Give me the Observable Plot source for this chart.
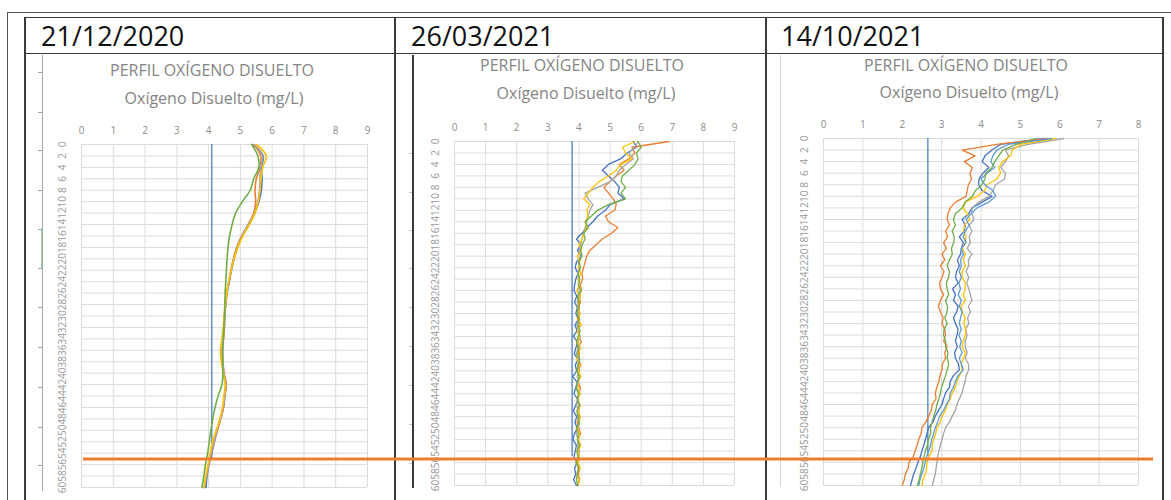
<!DOCTYPE html>
<html><head><meta charset="utf-8">
<script src="https://cdn.jsdelivr.net/npm/d3@7"></script>
<script src="https://cdn.jsdelivr.net/npm/@observablehq/plot@0.6"></script>
<style>
html,body{margin:0;padding:0;background:#fff;}
#page{position:relative;width:1171px;height:500px;overflow:hidden;font-family:"Open Sans",sans-serif;background:#fff;}
.ln{position:absolute;}
.hdr{position:absolute;top:22px;font-size:27px;color:#111;line-height:1;white-space:nowrap;}
.col{position:absolute;top:54px;height:446px;}
.ttl{position:absolute;transform:translateX(-50%);color:#858585;font-size:16px;line-height:1;white-space:nowrap;}
</style></head><body><div id="page"></div>
<script>
// ---------- data ----------
const dates = ["21/12/2020", "26/03/2021", "14/10/2021"];
const chartTitle = "PERFIL OXÍGENO DISUELTO";
const axisTitle = "Oxígeno Disuelto (mg/L)";
const depthTicks = [0,2,4,6,8,10,12,14,16,18,20,22,24,26,28,30,32,34,36,38,40,42,44,46,48,50,52,54,56,58,60];
const xTicks9 = [0,1,2,3,4,5,6,7,8,9];
const xTicks8 = [0,1,2,3,4,5,6,7,8];
const refValues = [4.1, 3.78, 2.65];      // vertical reference line (mg/L)
const refDepthEnd = 55;                     // reference line reaches this depth
const markDepth = 55;                       // highlighted depth (orange line)

const seriesNames = ["Serie 1", "Serie 2", "Serie 3", "Serie 4", "Serie 5", "Serie 6"];
const seriesColors = ["#4472C4", "#ED7D31", "#A5A5A5", "#FFC000", "#5B9BD5", "#70AD47"];

// Panel 1 (21/12/2020), depth every 2 m
const depth1 = [0,2,4,6,8,10,12,14,16,18,20,22,24,26,28,30,32,34,36,38,40,42,44,46,48,50,52,54,56,58,60];
const p1_s1 = [5.40,5.72,5.66,5.68,5.66,5.58,5.45,5.27,5.06,4.91,4.80,4.72,4.65,4.58,4.53,4.50,4.49,4.46,4.43,4.44,4.47,4.54,4.51,4.47,4.37,4.26,4.18,4.10,4.01,3.95,3.92];
const p1_s2 = [5.42,5.64,5.62,5.50,5.46,5.48,5.42,5.24,5.04,4.88,4.78,4.70,4.64,4.57,4.54,4.51,4.50,4.47,4.44,4.45,4.49,4.56,4.50,4.47,4.38,4.28,4.18,4.09,4.00,3.93,3.86];
const p1_s3 = [5.44,5.70,5.64,5.62,5.60,5.55,5.44,5.25,5.05,4.90,4.79,4.71,4.64,4.58,4.53,4.50,4.48,4.46,4.44,4.45,4.48,4.55,4.50,4.46,4.37,4.27,4.17,4.08,4.00,3.93,3.87];
const p1_s4 = [5.50,5.82,5.70,5.65,5.62,5.56,5.46,5.28,5.08,4.92,4.80,4.71,4.63,4.57,4.52,4.49,4.46,4.42,4.37,4.40,4.46,4.52,4.48,4.44,4.35,4.24,4.12,4.05,3.98,3.91,3.86];
const p1_s6 = [5.36,5.55,5.58,5.42,5.31,5.06,4.85,4.74,4.66,4.61,4.58,4.56,4.54,4.52,4.51,4.50,4.48,4.46,4.44,4.44,4.45,4.42,4.30,4.20,4.13,4.07,4.02,3.97,3.90,3.85,3.79];

// Panels 2 and 3, depth every 1 m
const depth1m = [0,1,2,3,4,5,6,7,8,9,10,11,12,13,14,15,16,17,18,19,20,21,22,23,24,25,26,27,28,29,30,31,32,33,34,35,36,37,38,39,40,41,42,43,44,45,46,47,48,49,50,51,52,53,54,55,56,57,58,59,60];

const p2_s1 = [5.75,5.85,5.55,5.35,4.95,4.75,4.95,5.15,5.3,5.25, 5.45,5.0,4.85,4.6,4.45,4.25,4.1,3.92,4.05,3.95, 4.08,3.92,3.88,3.97,3.9,3.86,3.84,3.93,3.86,3.95, 3.9,3.98,3.87,3.94,3.82,3.96,3.9,3.85,3.97,3.88, 3.93,3.8,3.95,3.89,3.84,3.96,3.9,3.82,3.93,3.87, 3.95,3.85,3.81,3.92,3.88,3.84,3.94,3.86,3.9,3.83, 3.92];
const p2_s2 = [6.9,5.7,5.8,5.6,5.3,5.45,5.2,5.0,4.8,4.95, 5.1,5.2,5.15,4.85,4.95,5.25,5.05,4.75,4.55,4.35, 4.25,4.2,4.15,4.1,4.12,4.05,4.08,4.0,4.05,3.98, 4.02,3.95,4.05,3.97,4.0,4.08,3.95,4.02,3.98,4.06, 3.96,4.03,3.97,4.05,3.99,3.95,4.04,3.98,4.02,3.94, 4.0,4.05,3.96,4.02,3.97,4.0,3.94,4.03,3.98,4.02, 3.95];
const p2_s3 = [5.9,5.8,5.6,5.75,5.5,5.3,5.2,5.0,4.6,4.2, 4.3,4.45,4.35,4.3,4.25,4.2,4.15,4.1,4.05,4.0, 4.05,3.98,4.02,3.95,4.0,4.03,3.96,4.0,3.94,4.02, 3.97,4.01,3.93,3.99,4.04,3.95,3.98,3.92,4.0,3.96, 4.02,3.94,3.99,3.93,4.01,3.97,3.92,4.0,3.95,4.03, 3.96,3.91,3.99,3.94,4.02,3.96,3.9,3.98,3.93,4.0, 3.95];
const p2_s4 = [5.8,5.4,5.5,5.7,5.35,5.2,4.95,4.65,4.45,4.3, 4.15,4.35,4.25,4.3,4.2,4.25,4.15,4.1,4.0,4.08, 3.95,4.03,3.98,4.06,3.97,4.02,3.93,4.05,3.99,3.96, 4.04,3.98,4.07,3.95,4.01,3.97,4.05,3.99,3.94,4.03, 3.98,4.06,3.96,4.0,4.04,3.95,4.02,3.97,4.05,3.99, 3.94,4.03,3.98,4.06,3.96,4.01,3.97,4.04,3.95,4.0, 3.97];
const p2_s6 = [5.9,6.0,5.85,5.9,5.8,5.6,5.4,5.35,5.5,5.35, 5.5,4.95,4.6,4.4,4.2,4.3,4.15,4.2,4.1,4.05, 4.1,4.0,4.05,3.97,4.03,3.98,4.06,3.95,4.01,3.97, 3.93,4.02,3.96,4.04,3.98,3.92,4.0,3.95,4.03,3.97, 3.94,4.01,3.96,3.9,3.99,3.95,4.02,3.93,3.97,4.0, 3.92,3.98,3.95,4.02,3.93,3.97,3.91,3.99,3.95,3.92, 3.96];

const p3_s1 = [5.6,4.5,4.28,4.1,4.03,4.2,4.05,3.95,3.94,4.03, 4.28,4.03,3.77,3.69,3.52,3.6,3.58,3.45,3.55,3.5, 3.48,3.4,3.45,3.38,3.35,3.42,3.28,3.35,3.3,3.42, 3.38,3.3,3.35,3.42,3.39,3.35,3.4,3.33,3.35,3.43, 3.45,3.3,3.22,3.2,3.1,3.05,3.01,2.92,2.84,2.78, 2.67,2.63,2.59,2.55,2.5,2.46,2.4,2.35,2.29,2.25, 2.21];
const p3_s2 = [5.7,4.4,3.52,3.85,3.58,3.78,3.72,3.76,3.68,3.65, 3.62,3.35,3.22,3.16,3.14,3.2,3.1,3.15,3.05,3.12, 3.01,3.08,2.97,3.06,3.01,2.95,2.97,3.05,2.97,2.92, 2.97,3.04,3.01,3.08,3.1,3.05,3.14,3.08,3.1,3.02, 3.01,2.96,2.93,2.88,2.84,2.86,2.76,2.74,2.67,2.6, 2.5,2.48,2.42,2.38,2.33,2.28,2.17,2.15,2.08,2.05, 2.0];
const p3_s3 = [6.1,5.2,4.62,4.7,4.62,4.5,4.62,4.6,4.37,4.3, 4.2,3.94,3.77,3.77,3.82,3.7,3.77,3.7,3.73,3.65, 3.77,3.68,3.69,3.62,3.69,3.64,3.69,3.73,3.77,3.68, 3.73,3.66,3.69,3.6,3.65,3.6,3.6,3.65,3.6,3.68, 3.69,3.62,3.6,3.55,3.52,3.45,3.39,3.35,3.27,3.2, 3.1,3.05,3.01,2.97,2.93,2.9,2.88,2.86,2.84,2.8, 2.76];
const p3_s4 = [5.9,5.0,4.8,4.75,4.55,4.45,4.5,4.4,4.15,4.1, 3.9,3.6,3.55,3.65,3.72,3.58,3.56,3.62,3.6,3.52, 3.6,3.55,3.6,3.52,3.52,3.6,3.6,3.55,3.6,3.5, 3.52,3.6,3.56,3.62,3.6,3.55,3.52,3.6,3.56,3.5, 3.52,3.45,3.39,3.35,3.27,3.22,3.14,3.1,3.01,2.97, 2.88,2.85,2.8,2.76,2.76,2.67,2.63,2.62,2.59,2.52, 2.5];
const p3_s5 = [5.8,4.7,4.4,4.3,4.25,4.35,4.15,4.0,4.1,4.3, 4.37,4.2,3.9,3.75,3.62,3.7,3.6,3.55,3.62,3.5, 3.55,3.48,3.5,3.45,3.5,3.44,3.48,3.42,3.5,3.45, 3.52,3.48,3.45,3.5,3.44,3.5,3.46,3.52,3.45,3.5, 3.55,3.42,3.35,3.3,3.22,3.2,3.12,3.05,2.95,2.9, 2.84,2.8,2.75,2.72,2.68,2.62,2.58,2.55,2.5,2.45, 2.42];
const p3_s6 = [5.4,4.9,4.55,4.45,4.35,4.28,4.12,4.1,4.02,3.86, 3.78,3.6,3.52,3.35,3.3,3.35,3.27,3.32,3.31,3.25, 3.27,3.2,3.14,3.2,3.18,3.12,3.14,3.18,3.1,3.15, 3.14,3.08,3.14,3.06,3.05,3.1,3.1,3.16,3.14,3.18, 3.14,3.1,3.05,3.0,2.97,2.93,2.88,2.85,2.8,2.76, 2.72,2.72,2.67,2.64,2.59,2.55,2.52,2.5,2.46,2.43, 2.38];

// ---------- layout ----------
const page = document.getElementById("page");
function box(x, y, w, h, color) {
  const d = document.createElement("div");
  d.className = "ln";
  d.style.cssText = `left:${x}px;top:${y}px;width:${w}px;height:${h}px;background:${color};`;
  page.appendChild(d);
}
// outer frame
box(7, 12, 1164, 1, "#555");
box(7, 12, 1, 488, "#555");
// table
box(24, 16.5, 1140, 1.6, "#3a3a3a");
box(24, 52.5, 1140, 1.6, "#3a3a3a");
box(24, 16.5, 1.6, 484, "#3a3a3a");
box(1162, 16.5, 1.6, 484, "#3a3a3a");
box(394, 16.5, 1.6, 484, "#3a3a3a");
box(765, 16.5, 1.6, 484, "#3a3a3a");

// left decorations (residual axis lines of the pasted charts)
box(41.5, 55, 1, 436, "#a8a8a8");
[72,112,150,190,229,268,307,347,387,427,465].forEach(y => box(38, y, 4, 1, "#a8a8a8"));
box(40.5, 228, 1.5, 40, "#9fd3a8");
box(412, 55, 2, 433, "#3a3a3a");
[153,192,230,268,307,346,385,424,463].forEach(y => box(409, y, 3, 1, "#c8c8c8"));
box(779.5, 55, 1, 432, "#d4d4d4");

// header texts
const hdrX = [41, 411, 781];
dates.forEach((t, i) => {
  const d = document.createElement("div");
  d.className = "hdr";
  d.style.left = hdrX[i] + "px";
  d.textContent = t;
  page.appendChild(d);
});

function makePanel(cfg) {
  const rows = [];
  cfg.values.forEach((vals, i) => vals.forEach((v, j) => rows.push({series: seriesNames[cfg.idx[i]], v, d: cfg.depth[j]})));
  const marks = [
    Plot.gridX(cfg.xTicks, {stroke: "#dcdcdc", strokeOpacity: 1}),
    Plot.gridY(depthTicks, {stroke: "#dcdcdc", strokeOpacity: 1}),
    Plot.axisX(cfg.xTicks, {anchor: "top", tickSize: 0, tickPadding: 11, fill: "#8c8c8c", fontSize: 10, label: null}),
    Plot.axisY(depthTicks, {anchor: "left", tickSize: 0, tickRotate: -90, tickPadding: 16, fill: "#9a9a9a", fontSize: 10, label: null}),
    Plot.ruleX([{x: cfg.ref, y1: 0, y2: refDepthEnd}], {x: "x", y1: "y1", y2: "y2", stroke: "#4F81BD", strokeWidth: 1.3}),
    Plot.line(rows, {x: "v", y: "d", z: "series", stroke: "series", strokeWidth: cfg.sw, curve: cfg.curve})
  ];
  if (cfg.mark) marks.push(Plot.ruleY([markDepth], {stroke: "#ED7D31", strokeWidth: 3, insetLeft: 2, insetRight: cfg.ir}));
  return Plot.plot({
    width: cfg.width, height: 446,
    marginLeft: cfg.ml, marginRight: cfg.mr, marginTop: cfg.mt, marginBottom: cfg.mb,
    style: {background: "transparent", fontFamily: "'Open Sans', sans-serif", overflow: "visible"},
    x: {domain: [0, cfg.xTicks[cfg.xTicks.length - 1]]},
    y: {domain: [0, 60], reverse: true},
    color: {domain: seriesNames, range: seriesColors},
    marks
  });
}

const panels = [
  {left: 26, width: 368, ml: 55, mr: 27, mt: 90, mb: 13, xTicks: xTicks9, ref: refValues[0], curve: "catmull-rom", sw: 1.6,
   mark: true, ir: -786, depth: depth1, idx: [0,1,2,3,5],
   values: [p1_s1, p1_s2, p1_s3, p1_s4, p1_s6],
   titleX: 212, titleY: 8, subX: 214, subY: 36, z: 3},
  {left: 396, width: 369, ml: 58, mr: 31, mt: 87, mb: 15, xTicks: xTicks9, ref: refValues[1], curve: "linear", sw: 1.3,
   mark: false, depth: depth1m, idx: [0,1,2,3,5],
   values: [p2_s1, p2_s2, p2_s3, p2_s4, p2_s6],
   titleX: 582, titleY: 3, subX: 586, subY: 31, z: 1},
  {left: 767, width: 395, ml: 56, mr: 24, mt: 84, mb: 15, xTicks: xTicks8, ref: refValues[2], curve: "linear", sw: 1.3,
   mark: false, depth: depth1m, idx: [0,1,2,3,4,5],
   values: [p3_s1, p3_s2, p3_s3, p3_s4, p3_s5, p3_s6],
   titleX: 966, titleY: 3, subX: 969, subY: 30, z: 1}
];

panels.forEach(cfg => {
  const col = document.createElement("div");
  col.className = "col";
  col.style.left = cfg.left + "px";
  col.style.width = cfg.width + "px";
  col.style.zIndex = cfg.z;
  const t1 = document.createElement("div");
  t1.className = "ttl";
  t1.style.left = (cfg.titleX - cfg.left) + "px";
  t1.style.top = cfg.titleY + "px";
  t1.textContent = chartTitle;
  const t2 = document.createElement("div");
  t2.className = "ttl";
  t2.style.left = (cfg.subX - cfg.left) + "px";
  t2.style.top = cfg.subY + "px";
  t2.textContent = axisTitle;
  col.appendChild(makePanel(cfg));
  col.appendChild(t1);
  col.appendChild(t2);
  const svg = col.querySelector("svg");
  svg.style.position = "absolute";
  svg.style.left = "0px";
  svg.style.top = "0px";
  page.appendChild(col);
});
</script></body></html>
